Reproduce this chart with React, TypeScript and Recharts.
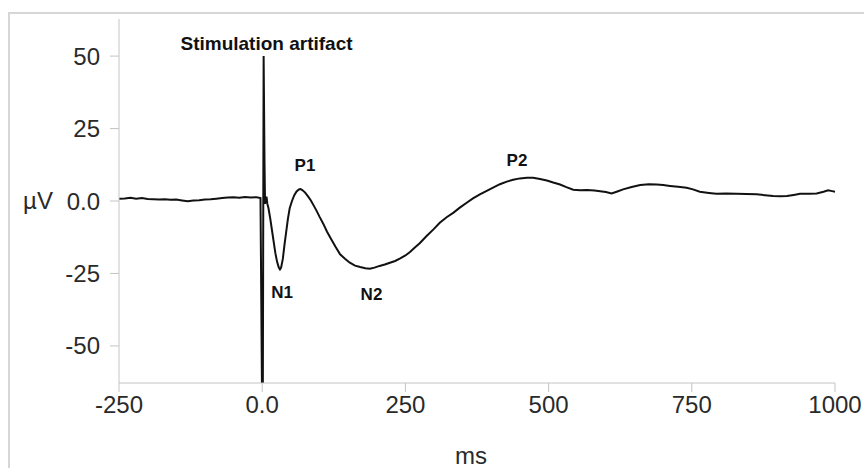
import { LineChart, Line, XAxis, YAxis, ReferenceDot } from 'recharts'

// time (ms) and amplitude (µV)
const times = [
  -250, -240, -230, -220, -210, -200, -190, -180, -170, -160, -150, -140, -130, -120, -110, -100,
  -90, -80, -70, -60, -50, -40, -30, -20, -10, -3, 0, 1, 2.5, 4, 5, 6, 7.5, 9, 11, 14, 17, 20, 23,
  26, 29, 31, 33, 36, 39, 42, 45, 48, 52, 56, 60, 64, 67, 70, 75, 80, 85, 90, 95, 100, 107, 113,
  120, 128, 136, 145, 153, 162, 171, 180, 188, 196, 205, 214, 223, 232, 241, 250, 258, 266, 275,
  287, 299, 310, 322, 334, 345, 357, 368, 380, 392, 403, 415, 427, 438, 450, 462, 473, 485, 497,
  508, 520, 531, 543, 555, 567, 580, 590, 600, 610, 620, 630, 645, 660, 675, 689, 700, 712, 726,
  741, 752, 764, 780, 793, 810, 828, 845, 863, 878, 892, 905, 916, 928, 939, 955, 968, 980, 988,
  995, 1000,
]
const microvolts = [
  0.8, 0.9, 1.1, 0.8, 1.0, 0.7, 0.6, 0.5, 0.6, 0.4, 0.5, 0.2, -0.1, 0.2, 0.3, 0.5,
  0.6, 0.8, 1.0, 1.2, 1.3, 1.1, 1.4, 1.2, 1.3, 1.0, -75, -75, 50, 14, -1, 0.5, 1.5, -1, -2.5, -6, -10, -14, -18,
  -21, -23, -23.6, -23, -20, -15, -10.5, -6, -2.5, 0, 2, 3.3, 4, 4.1, 3.8, 2.9, 1.6, 0.2, -1.6, -3.4, -5.4, -8, -10.5,
  -13, -15.8, -18.4, -20, -21.3, -22.3, -22.8, -23.2, -23.4, -23, -22.4, -21.9, -21.3, -20.7, -19.8, -18.8, -17.6, -16.1, -14.6,
  -12.1, -9.8, -7.5, -5.6, -4.0, -2.3, -0.6, 0.9, 2.3, 3.5, 4.6, 5.8, 6.7, 7.3, 7.8, 8.0, 8.0, 7.6, 7.1,
  6.4, 5.7, 4.8, 3.9, 3.7, 3.8, 3.6, 3.4, 3.1, 2.6, 3.3, 4.0, 4.8, 5.5, 5.8, 5.7, 5.5, 5.2, 4.9,
  4.6, 4.0, 3.2, 2.8, 2.5, 2.6, 2.5, 2.4, 2.3, 2.0, 1.7, 1.6, 1.7, 2.1, 2.5, 2.5, 2.6, 3.2, 3.7,
  3.4, 3.2,
]

const xTicks = [-250, 0, 250, 500, 750, 1000]
const yTicks = [-50, -25, 0, 25, 50]

const annotations = [
  { t: 7.5, v: 54.5, text: 'Stimulation artifact', size: 19 },
  { t: 74.7, v: 12.4, text: 'P1', size: 17 },
  { t: 34.6, v: -31.4, text: 'N1', size: 17 },
  { t: 190.8, v: -32.1, text: 'N2', size: 17 },
  { t: 444.8, v: 14.1, text: 'P2', size: 17 },
]

const data = times.map((t, i) => ({ t, v: microvolts[i] }))

const font = '"Liberation Sans", Arial, Helvetica, sans-serif'
const axisGrey = '#c4c4c4'
const tickStyle = { fontSize: 24, fill: '#2a2a2a', fontFamily: font }
const fmt = (v: number) => (v === 0 ? '0.0' : String(v))

export default function App() {
  return (
    <div style={{ position: 'relative', width: 864, height: 468 }}>
      <style>{'body{margin:0}'}</style>
      <div
        style={{
          position: 'absolute',
          left: 8,
          top: 12,
          right: 0,
          bottom: 0,
          borderLeft: '2px solid #d6d6d6',
          borderTop: '2px solid #d6d6d6',
        }}
      />
      <LineChart
        width={864}
        height={468}
        data={data}
        margin={{ top: 19, right: 29, bottom: 0, left: 0 }}
        style={{ position: 'absolute', left: 0, top: 0 }}
      >
        <XAxis
          dataKey="t"
          type="number"
          domain={[-250, 1000]}
          ticks={xTicks}
          tickFormatter={fmt}
          height={85}
          tickSize={9}
          tickMargin={4}
          tick={tickStyle}
          stroke={axisGrey}
          interval={0}
        />
        <YAxis
          type="number"
          domain={[-62.8, 62.8]}
          allowDataOverflow
          ticks={yTicks}
          tickFormatter={fmt}
          width={119}
          tickSize={9}
          tickMargin={10}
          tick={tickStyle}
          stroke={axisGrey}
          interval={0}
        />
        <Line
          dataKey="v"
          type="linear"
          stroke="#111"
          strokeWidth={2}
          dot={false}
          isAnimationActive={false}
        />
        {annotations.map((a) => (
          <ReferenceDot
            key={a.text}
            x={a.t}
            y={a.v}
            r={0}
            fill="none"
            stroke="none"
            ifOverflow="visible"
            label={{
              value: a.text,
              position: 'center',
              fontSize: a.size,
              fontWeight: 'bold',
              fill: '#111',
              fontFamily: font,
            }}
          />
        ))}
        <text x={38} y={200} textAnchor="middle" dominantBaseline="central" fontSize={24} fill="#2a2a2a" fontFamily={font}>
          µV
        </text>
        <text x={471} y={455} textAnchor="middle" dominantBaseline="central" fontSize={24} fill="#2a2a2a" fontFamily={font}>
          ms
        </text>
      </LineChart>
    </div>
  )
}
